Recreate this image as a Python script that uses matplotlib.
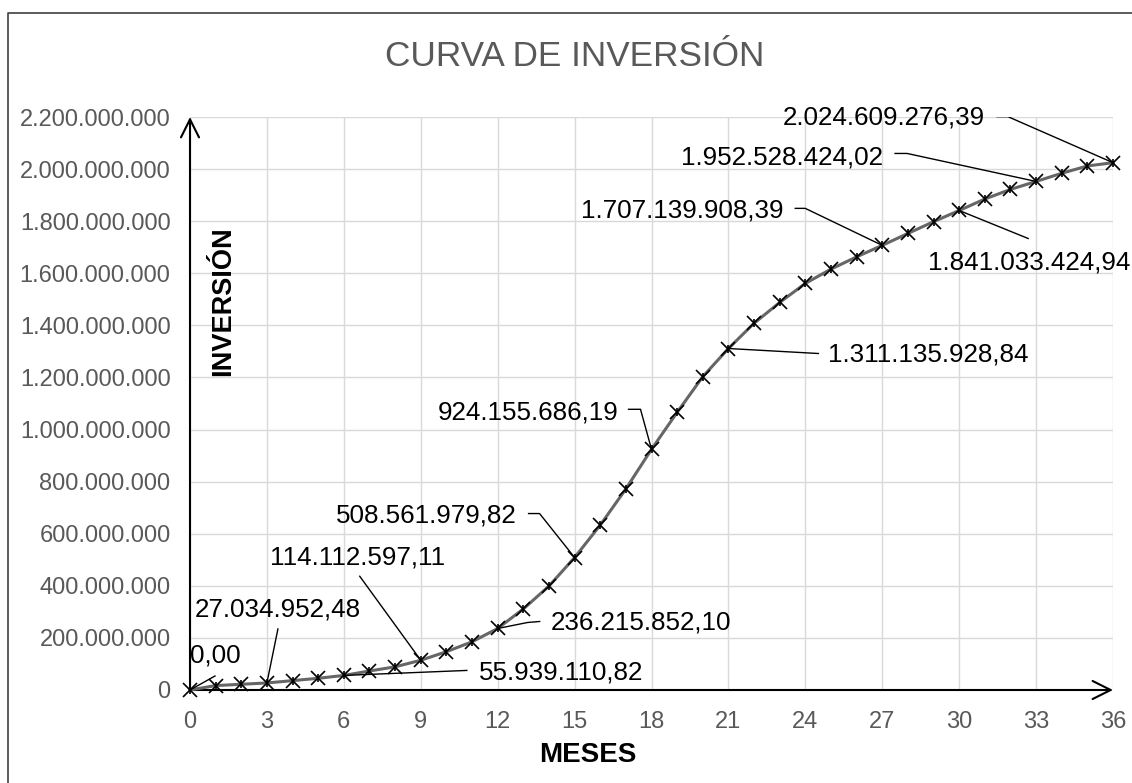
import matplotlib
matplotlib.use("Agg")
import matplotlib.pyplot as plt
from matplotlib.lines import Line2D
from matplotlib.ticker import FuncFormatter, MultipleLocator

plt.rcParams["font.family"] = ["Liberation Sans", "DejaVu Sans"]

# inversión acumulada por mes
meses = list(range(37))
inversion = [
    0.00, 17e6, 22e6, 27034952.48, 36e6, 45e6, 55939110.82, 73e6, 89e6,
    114112597.11, 147e6, 185e6, 236215852.10, 311e6, 399e6, 508561979.82,
    633e6, 772e6, 924155686.19, 1066e6, 1203e6, 1311135928.84, 1408e6,
    1488e6, 1561e6, 1616e6, 1663e6, 1707139908.39, 1753e6, 1798e6,
    1841033424.94, 1885e6, 1922e6, 1952528424.02, 1984e6, 2012e6,
    2024609276.39,
]

# meses con etiqueta de valor
meses_etiqueta = [0, 3, 6, 9, 12, 15, 18, 21, 27, 30, 33, 36]

# posición del texto y quiebres de la línea guía (en píxeles respecto al punto)
textos_px = {
    0: (25, 34), 3: (11, 73), 6: (217, 3), 9: (-63, 103), 12: (143, 6),
    15: (-148, 42), 18: (-123, 37), 21: (200, -6), 27: (-200, 35),
    30: (70, -52), 33: (-254, 24), 36: (-229, 45),
}
guias_px = {
    0: [(25, 14)], 3: [(11, 54)], 6: [(123, 5)], 9: [(-61, 84)],
    12: [(42, 7), (30, 6)], 15: [(-46, 44), (-35, 44)],
    18: [(-23, 40), (-11, 40)], 21: [(90, -5)], 27: [(-87, 37), (-77, 37)],
    30: [(69, -28)], 33: [(-141, 28), (-129, 28)], 36: [(-116, 46), (-105, 46)],
}

W, H = 1132, 783
fig = plt.figure(figsize=(W / 100, H / 100), dpi=100)
ax = fig.add_axes([190 / W, 1 - 690 / H, (1113 - 190) / W, (690 - 117) / H])
ax.set_xlim(0, 36)
ax.set_ylim(0, 2.2e9)

gris = "#595959"
ax.xaxis.set_major_locator(MultipleLocator(3))
ax.yaxis.set_major_locator(MultipleLocator(2e8))
ax.yaxis.set_major_formatter(
    FuncFormatter(lambda v, p: f"{int(round(v)):,}".replace(",", "."))
)
ax.grid(True, color="#d9d9d9", linewidth=1.0)
ax.set_axisbelow(True)
for s in ax.spines.values():
    s.set_visible(False)
ax.tick_params(length=0, labelsize=17, labelcolor=gris)
ax.tick_params(axis="x", pad=15)
ax.tick_params(axis="y", pad=14)

# ejes con flecha
flecha = dict(arrowstyle="->,head_length=1.3,head_width=0.65", color="black",
              lw=1.5, shrinkA=0, shrinkB=0)
ax.annotate("", xy=(0, 2.2e9), xytext=(0, 0), arrowprops=flecha,
            annotation_clip=False)
ax.annotate("", xy=(36, 0), xytext=(0, 0), arrowprops=flecha,
            annotation_clip=False)

# curva y marcadores (estrella: aspa con trazo vertical)
ax.plot(meses, inversion, color="#666666", lw=2.2, zorder=3, clip_on=False)
ax.plot(meses, inversion, ls="none", marker="x", ms=10, mew=1.2,
        color="black", zorder=4, clip_on=False)
ax.plot(meses, inversion, ls="none", marker="|", ms=6, mew=1.2,
        color="black", zorder=4, clip_on=False)


def fmt_valor(v):
    s = f"{v:,.2f}"
    return s.replace(",", "X").replace(".", ",").replace("X", ".")


fig.canvas.draw()
for m in meses_etiqueta:
    v = inversion[m]
    px, py = ax.transData.transform((m, v))
    dx, dy = textos_px[m]
    ax.text(px + dx, py + dy, fmt_valor(v), transform=None, fontsize=18.7,
            ha="center", va="center", color="black", zorder=5)
    pts = [(px + gx, py + gy) for gx, gy in guias_px[m]] + [(px, py)]
    ax.add_line(Line2D([p[0] for p in pts], [p[1] for p in pts],
                       transform=None, color="black", lw=1.0, zorder=5))

ax.text(223, H - 301, "INVERSIÓN", transform=None, rotation=90,
        fontsize=19.5, fontweight="bold", ha="center", va="center")
fig.text(588 / W, 1 - 755 / H, "MESES", fontsize=20, fontweight="bold",
         ha="center", va="center")
fig.text(575 / W, 1 - 57 / H, "CURVA DE INVERSIÓN", fontsize=25.3,
         color=gris, ha="center", va="center")

# marco del gráfico
fig.add_artist(Line2D([8 / W, 8 / W, 1], [0, 1 - 13 / H, 1 - 13 / H],
                      transform=fig.transFigure, color="#404040", lw=1.2))

fig.savefig("out.png", dpi=100)
